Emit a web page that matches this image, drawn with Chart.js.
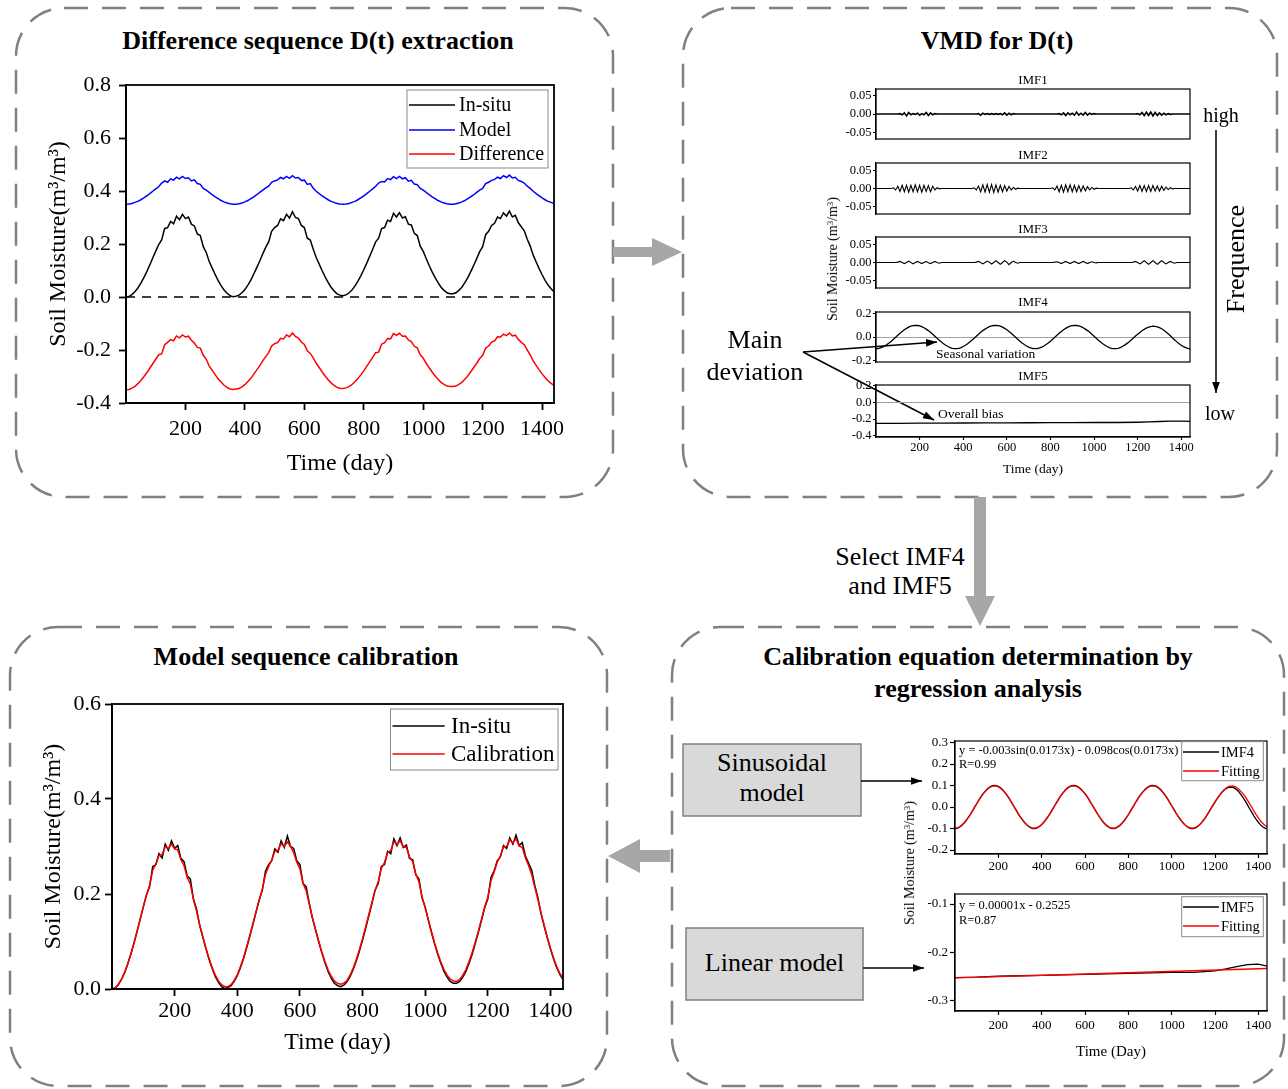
<!DOCTYPE html>
<html>
<head>
<meta charset="utf-8">
<script src="https://cdn.jsdelivr.net/npm/chart.js@4.4.1/dist/chart.umd.min.js"></script>
<style>
html, body { margin: 0; padding: 0; background: #fff; }
#page { position: relative; width: 1288px; height: 1089px; overflow: hidden;
        font-family: "Liberation Serif", "Times New Roman", serif; color: #000; }
#page canvas { position: absolute; }
.t { position: absolute; white-space: nowrap; line-height: 1; transform: translate(-50%, -50%); z-index: 3; }
.l { position: absolute; white-space: nowrap; line-height: 1; transform: translate(0, -50%); z-index: 3; }
.rot { transform: translate(-50%, -50%) rotate(-90deg); }
.b { font-weight: bold; }
sup { font-size: 0.62em; vertical-align: 0.5em; line-height: 0; }
</style>
</head>
<body>
<div id="page">
<svg width="1288" height="1089" style="position:absolute;left:0;top:0">
  <defs>
    <marker id="ah" viewBox="0 0 10 10" refX="10" refY="5" markerWidth="11" markerHeight="11"
            markerUnits="userSpaceOnUse" orient="auto">
      <path d="M0,1.5 L10,5 L0,8.5 z" fill="#000"/>
    </marker>
  </defs>
  <!-- dashed panels -->
  <g fill="none" stroke="#808080" stroke-width="2.5" stroke-dasharray="24 14">
    <rect x="16" y="8" width="597" height="489" rx="48"/>
    <rect x="683" y="8" width="594" height="489" rx="48"/>
    <rect x="10" y="627" width="597" height="459" rx="48"/>
    <rect x="672" y="627" width="612" height="459" rx="48"/>
  </g>
  <!-- gray flow arrows -->
  <g fill="#a6a6a6">
    <polygon points="613,247 652,247 652,238 682,252 652,266 652,257 613,257"/>
    <polygon points="974,497 986,497 986,596 995,596 980,626 965,596 974,596"/>
    <polygon points="670,850 640,850 640,839 608,856 640,873 640,862 670,862"/>
  </g>
  <!-- model boxes -->
  <rect x="683" y="744" width="178" height="72" fill="#d9d9d9" stroke="#7f7f7f" stroke-width="1.5"/>
  <rect x="686" y="928" width="177" height="72" fill="#d9d9d9" stroke="#7f7f7f" stroke-width="1.5"/>
  <!-- black arrows -->
  <g stroke="#000" stroke-width="1.5" fill="none">
    <line x1="861" y1="781" x2="922" y2="781" marker-end="url(#ah)"/>
    <line x1="863" y1="968" x2="924" y2="968" marker-end="url(#ah)"/>
    <line x1="803" y1="352" x2="937" y2="342" marker-end="url(#ah)"/>
    <line x1="803" y1="352" x2="934" y2="420" marker-end="url(#ah)"/>
    <line x1="1216" y1="130" x2="1216" y2="393" marker-end="url(#ah)"/>
  </g>
</svg>
</div>
<script>
// days 0..1440, one sample every 10 days
const days = Array.from({length: 145}, (_, i) => i * 10);
const xTicks = [200, 400, 600, 800, 1000, 1200, 1400];

const inSitu = [
  0,.002,.009,.020,.034,.052,.073,.096,.121,.147,.173,.198,
  .215,.258,.262,.285,.276,.305,.292,.312,.296,.302,.275,.268,.238,.232,.190,
  .168,.134,.109,.085,.062,.043,.026,.014,.005,.001,
  .003,.007,.016,.028,.045,.064,.087,.111,.136,.162,.187,
  .208,.248,.262,.270,.295,.288,.312,.298,.322,.300,.296,.270,.262,.222,.215,.180,
  .149,.124,.099,.076,.055,.037,.023,.012,.007,.005,
  .008,.015,.026,.041,.059,.080,.103,.128,.154,.180,
  .208,.222,.258,.262,.290,.285,.316,.302,.318,.298,.303,.275,.272,.240,.232,.192,.172,
  .145,.119,.095,.073,.054,.037,.025,.016,.012,
  .012,.016,.025,.037,.054,.073,.096,.120,.145,.171,
  .190,.235,.248,.270,.278,.302,.296,.318,.305,.324,.302,.308,.280,.265,.250,.218,.192,
  .158,.132,.107,.084,.063,.045,.031,.020
];
const model = [
  .350,.351,.353,.357,.361,.367,.374,.382,.390,.399,.408,.416,
  .430,.438,.433,.446,.441,.452,.446,.455,.447,.450,.438,.442,.428,.425,.410,
  .403,.395,.386,.378,.371,.364,.359,.355,.352,.350,
  .350,.352,.355,.359,.364,.371,.378,.386,.395,.403,.412,
  .418,.433,.438,.442,.451,.446,.455,.448,.458,.449,.451,.440,.441,.425,.428,.410,
  .399,.390,.382,.374,.367,.361,.357,.353,.351,.350,
  .351,.353,.357,.361,.367,.374,.382,.390,.399,.408,
  .418,.430,.436,.434,.447,.443,.454,.447,.455,.446,.450,.437,.440,.426,.424,.410,
  .403,.395,.386,.378,.371,.364,.359,.355,.352,.350,
  .350,.352,.355,.359,.364,.371,.378,.386,.395,.403,
  .410,.428,.433,.440,.444,.452,.447,.458,.451,.460,.449,.452,.440,.436,.430,.418,.410,
  .399,.390,.382,.374,.367,.361,.357,.353
];
const difference = [
  -.350,-.349,-.344,-.337,-.327,-.315,-.301,-.286,-.269,-.252,-.235,-.218,
  -.215,-.180,-.171,-.161,-.165,-.147,-.154,-.143,-.151,-.148,-.163,-.174,-.190,-.193,-.220,
  -.235,-.261,-.277,-.293,-.309,-.321,-.333,-.341,-.347,-.349,
  -.347,-.345,-.339,-.331,-.319,-.307,-.291,-.275,-.259,-.241,-.225,
  -.210,-.185,-.176,-.172,-.156,-.158,-.143,-.150,-.136,-.149,-.155,-.170,-.179,-.203,-.213,-.230,
  -.250,-.266,-.283,-.298,-.312,-.324,-.334,-.341,-.344,-.345,
  -.343,-.338,-.331,-.320,-.308,-.294,-.279,-.262,-.245,-.228,
  -.210,-.208,-.178,-.172,-.157,-.158,-.138,-.145,-.137,-.148,-.147,-.162,-.168,-.186,-.192,-.218,-.231,
  -.250,-.267,-.283,-.298,-.310,-.322,-.330,-.336,-.338,
  -.338,-.336,-.330,-.322,-.310,-.298,-.282,-.266,-.250,-.232,
  -.220,-.193,-.185,-.170,-.166,-.150,-.151,-.140,-.146,-.136,-.147,-.144,-.160,-.171,-.180,-.200,-.218,
  -.241,-.258,-.275,-.290,-.304,-.316,-.326,-.333
];
const calibration = [
  0,.002,.009,.020,.034,.052,.073,.096,.121,.147,.173,.198,
  .218,.250,.262,.281,.283,.300,.296,.305,.295,.293,.272,.260,.235,.221,.188,
  .164,.135,.110,.086,.064,.045,.029,.017,.009,.005,
  .005,.009,.018,.030,.047,.066,.089,.113,.138,.163,.188,
  .210,.241,.258,.271,.290,.292,.306,.300,.310,.300,.287,.267,.253,.222,.207,.178,
  .150,.125,.101,.078,.058,.040,.027,.017,.012,.010,
  .012,.018,.029,.044,.062,.083,.106,.131,.157,.183,
  .208,.226,.254,.266,.288,.291,.310,.305,.312,.300,.298,.278,.268,.242,.226,.194,.171,
  .146,.121,.097,.076,.057,.041,.029,.021,.017,
  .016,.020,.029,.041,.058,.077,.099,.123,.148,.173,
  .193,.228,.246,.267,.280,.299,.300,.314,.308,.316,.301,.298,.276,.260,.241,.214,.188,
  .160,.134,.109,.086,.065,.047,.033,.023
];
const imf1 = [
  0,0,0,0,0,0,0,0,0,0,0,
  .001,-.002,.003,-.005,.004,-.002,.001,-.001,.002,-.003,.001,-.002,.004,-.004,.003,-.002,.001,
  0,0,0,0,0,0,0,0,0,
  0,0,0,0,0,0,0,0,0,0,
  .001,-.003,.002,-.001,.001,-.001,.001,-.001,.001,-.001,.001,-.002,.003,-.003,.002,-.002,.001,
  0,0,0,0,0,0,0,0,0,0,
  0,0,0,0,0,0,0,0,0,0,
  .001,-.002,.003,-.004,.003,-.002,.002,-.003,.005,-.003,.002,-.003,.004,-.003,.002,-.001,.001,
  0,0,0,0,0,0,0,0,0,
  0,0,0,0,0,0,0,0,0,0,
  .001,-.002,.004,-.004,.005,-.004,.005,-.005,.004,-.004,.003,-.003,.002,-.002,.001,-.001,0,
  0,0,0,0,0,0,0,0
];
const imf2 = [
  0,0,0,0,0,0,0,0,
  .002,-.004,.006,-.008,.009,-.009,.009,-.010,.009,-.009,.010,-.009,.009,-.010,.009,-.008,.008,-.009,.006,-.004,.002,-.001,
  0,0,0,0,0,0,0,
  0,0,0,0,0,0,0,0,
  .002,-.004,.007,-.009,.010,-.010,.011,-.010,.011,-.011,.010,-.010,.009,-.009,.008,-.007,.006,-.004,.003,-.002,.001,
  0,0,0,0,0,0,0,0,
  0,0,0,0,0,0,0,
  .002,-.004,.007,-.009,.009,-.010,.010,-.009,.010,-.009,.009,-.009,.008,-.008,.007,-.006,.005,-.004,.003,-.002,.001,
  0,0,0,0,0,0,0,0,
  0,0,0,0,0,0,0,
  .002,-.004,.006,-.007,.008,-.008,.008,-.008,.008,-.008,.008,-.007,.007,-.007,.006,-.005,.004,-.003,.002,-.001,
  0,0,0,0,0,0,0,0
];
const imf3 = [
  0,0,0,0,0,0,0,0,0,0,
  .001,.003,0,-.003,0,.004,0,-.004,0,.003,0,-.003,0,.003,-.001,-.003,0,.003,0,-.002,
  0,0,0,0,0,0,0,
  0,0,0,0,0,0,0,0,0,
  .001,.003,0,-.004,0,.004,.001,-.004,0,.005,0,-.005,0,.005,.001,-.006,0,.004,0,-.002,
  0,0,0,0,0,0,0,0,
  0,0,0,0,0,0,0,0,
  .001,.002,0,-.003,0,.003,0,-.003,0,.003,0,-.003,0,.003,0,-.003,0,.002,0,-.001,
  0,0,0,0,0,0,0,0,
  0,0,0,0,0,0,0,0,
  .001,.003,0,-.004,0,.005,0,-.005,0,.005,0,-.005,0,.005,0,-.004,0,.003,0,-.002,
  0,0,0,0,0,0,0
];
const imf4 = [
  -.100,-.099,-.094,-.087,-.077,-.065,-.051,-.036,-.019,-.002,.015,.032,.048,.062,.074,.085,.093,.098,.100,
  .099,.096,.089,.080,.068,.055,.040,.023,.006,-.011,-.028,-.044,-.058,-.071,-.082,-.091,-.097,-.100,
  -.100,-.097,-.091,-.082,-.071,-.058,-.044,-.028,-.011,.006,.023,.040,.055,.068,.080,.089,.096,.099,.100,
  .098,.093,.085,.074,.062,.048,.032,.015,-.002,-.019,-.036,-.051,-.065,-.077,-.087,-.094,-.099,-.100,
  -.099,-.094,-.087,-.077,-.065,-.051,-.036,-.019,-.002,.015,.032,.048,.062,.074,.085,.093,.098,.100,
  .099,.096,.089,.080,.068,.055,.040,.023,.006,-.011,-.028,-.044,-.058,-.071,-.082,-.091,-.097,-.100,
  -.100,-.097,-.091,-.082,-.070,-.057,-.042,-.026,-.009,.008,.024,.039,.053,.066,.077,.085,.090,.093,
  .092,.088,.081,.071,.058,.043,.027,.010,-.008,-.025,-.042,-.058,-.071,-.083,-.092,-.098,-.101
];
const fit4 = [
  -.098,-.097,-.092,-.085,-.076,-.064,-.050,-.035,-.019,-.002,.015,.031,.047,.061,.073,.083,.091,.096,.098,
  .097,.094,.087,.078,.067,.054,.039,.023,.006,-.010,-.027,-.043,-.057,-.070,-.081,-.089,-.095,-.098,
  -.098,-.095,-.089,-.081,-.070,-.057,-.043,-.027,-.010,.006,.023,.039,.054,.067,.078,.087,.094,.097,.098,
  .096,.091,.083,.073,.061,.047,.031,.015,-.002,-.019,-.035,-.050,-.064,-.076,-.085,-.092,-.097,-.098,
  -.097,-.092,-.085,-.076,-.064,-.050,-.035,-.019,-.002,.015,.031,.047,.061,.073,.083,.091,.096,.098,
  .097,.094,.087,.078,.067,.054,.039,.023,.006,-.010,-.027,-.043,-.057,-.070,-.081,-.089,-.095,-.098,
  -.098,-.095,-.089,-.081,-.070,-.057,-.043,-.027,-.010,.006,.023,.039,.054,.067,.078,.087,.094,.097,
  .098,.096,.091,.083,.073,.061,.047,.031,.015,-.002,-.019,-.035,-.050,-.064,-.076,-.085,-.092
];
const imf5Days = [0, 100, 200, 300, 400, 500, 600, 700, 800, 900, 1000, 1100, 1200, 1250, 1300, 1350, 1400, 1440];
const imf5 = [-.252, -.251, -.249, -.248, -.247, -.246, -.245, -.244, -.243, -.242, -.241, -.241, -.238, -.234, -.229, -.225, -.224, -.228];
const fit5Days = [0, 720, 1440];
const fit5 = [-.2525, -.2428, -.233];
const zeroDays = [0, 1440];
const zeroLine = [0, 0];

const FONT = '"Liberation Serif", "Times New Roman", serif';
Chart.defaults.font.family = FONT;
Chart.defaults.color = '#000';

const page = document.getElementById('page');
const pts = (xs, ys) => xs.map((x, i) => ({x: x, y: ys[i]}));

function line(label, xs, ys, color, width, extra) {
  return Object.assign({label: label, data: pts(xs, ys), borderColor: color, borderWidth: width,
    pointRadius: 0, tension: 0, fill: false}, extra || {});
}

// box around the plot area
const framePlugin = {
  id: 'frame',
  afterDatasetsDraw(chart, args, o) {
    const a = chart.chartArea, ctx = chart.ctx;
    ctx.save();
    ctx.strokeStyle = '#000';
    ctx.lineWidth = o.width || 1.2;
    ctx.strokeRect(a.left, a.top, a.right - a.left, a.bottom - a.top);
    ctx.restore();
  }
};

// legend drawn inside the plot, like the original
const boxLegend = {
  id: 'boxLegend',
  afterDatasetsDraw(chart, args, o) {
    if (!o || !o.box) return;
    const a = chart.chartArea, ctx = chart.ctx;
    const [bx, by, bw, bh] = o.box;
    ctx.save();
    ctx.fillStyle = '#fff';
    ctx.fillRect(a.left + bx, a.top + by, bw, bh);
    ctx.strokeStyle = '#8a8a8a';
    ctx.lineWidth = 1;
    ctx.strokeRect(a.left + bx, a.top + by, bw, bh);
    ctx.font = o.font + 'px ' + FONT;
    ctx.textBaseline = 'middle';
    ctx.fillStyle = '#000';
    let k = 0;
    chart.data.datasets.forEach(ds => {
      if (!ds.label) return;
      const y = a.top + o.rows[k++];
      ctx.strokeStyle = ds.borderColor;
      ctx.lineWidth = 1.5;
      ctx.beginPath();
      ctx.moveTo(a.left + o.line[0], y);
      ctx.lineTo(a.left + o.line[1], y);
      ctx.stroke();
      ctx.fillText(ds.label, a.left + o.textX, y + 1);
    });
    ctx.restore();
  }
};
Chart.register(framePlugin, boxLegend);

function makeChart(o) {
  const [l, t, r, b] = o.area;
  const [pl, pt, pr, pb] = o.pad;
  const w = r - l + pl + pr, h = b - t + pt + pb;
  const cv = document.createElement('canvas');
  cv.width = w; cv.height = h;
  cv.style.left = (l - pl) + 'px';
  cv.style.top = (t - pt) + 'px';
  cv.style.width = w + 'px';
  cv.style.height = h + 'px';
  page.appendChild(cv);
  const xo = o.x, yo = o.y;
  const xShow = !!xo.size;
  return new Chart(cv, {
    type: 'line',
    data: {datasets: o.datasets},
    options: {
      responsive: false,
      animation: false,
      devicePixelRatio: 1,
      layout: {padding: {left: 0, top: pt, right: pr, bottom: 0}},
      plugins: {
        legend: {display: false},
        tooltip: {enabled: false},
        frame: {width: o.frame},
        boxLegend: o.legend || {}
      },
      scales: {
        x: {
          type: 'linear', min: 0, max: 1440, display: xShow,
          afterBuildTicks: s => { s.ticks = xTicks.map(v => ({value: v})); },
          afterFit: s => { s.height = pb; },
          ticks: {autoSkip: false, maxRotation: 0, padding: xo.pad, font: {size: xo.size}, color: '#000',
                  callback: v => String(v)},
          grid: {drawOnChartArea: false, tickLength: xo.tick, tickColor: '#000', tickWidth: o.frame},
          border: {display: true, color: '#000', width: o.frame},
          title: xo.title ? {display: true, text: xo.title, color: '#000', font: {size: xo.titleSize},
                             padding: {top: 0, bottom: xo.titlePad}} : {display: false}
        },
        y: {
          type: 'linear', min: yo.min, max: yo.max,
          afterBuildTicks: s => { s.ticks = yo.ticks.map(v => ({value: v})); },
          afterFit: s => { s.width = pl; },
          ticks: {autoSkip: false, padding: yo.pad, font: {size: yo.size}, color: '#000',
                  callback: v => v.toFixed(yo.dec)},
          grid: {
            drawOnChartArea: !!yo.zero,
            color: c => (yo.zero && c.tick && Math.abs(c.tick.value) < 1e-9) ? '#a0a0a0' : 'rgba(0,0,0,0)',
            lineWidth: 1, tickColor: '#000', tickWidth: o.frame, tickLength: yo.tick
          },
          border: {display: true, color: '#000', width: o.frame},
          title: yo.title ? {display: true, text: yo.title, color: '#000', font: {size: yo.titleSize},
                             padding: {top: yo.titlePad, bottom: 0}} : {display: false}
        }
      }
    }
  });
}

function text(html, x, y, size, cls) {
  const d = document.createElement('div');
  d.className = cls || 't';
  d.style.left = x + 'px';
  d.style.top = y + 'px';
  d.style.fontSize = size + 'px';
  d.innerHTML = html;
  page.appendChild(d);
}

function build() {
  // panel 1: difference sequence
  makeChart({
    area: [126, 85, 554, 403], pad: [106, 30, 22, 80], frame: 1.8,
    datasets: [
      line('In-situ', days, inSitu, '#000000', 1.5),
      line('Model', days, model, '#0000ff', 1.5),
      line('Difference', days, difference, '#ff0000', 1.5),
      line(undefined, zeroDays, zeroLine, '#000000', 1.5, {borderDash: [9, 7]})
    ],
    x: {size: 22, pad: 6, tick: 7, title: 'Time (day)', titleSize: 24, titlePad: 4.6},
    y: {min: -0.4, max: 0.8, ticks: [-0.4, -0.2, 0, 0.2, 0.4, 0.6, 0.8], dec: 1, size: 22, pad: 8, tick: 7,
        title: 'Soil Moisture(m³/m³)', titleSize: 24, titlePad: 24.6},
    legend: {box: [281, 5, 141, 78], rows: [20, 45, 69], line: [283, 329], textX: 333, font: 20}
  });

  // panel 2: VMD components
  const imfY = {min: -0.07, max: 0.07, ticks: [-0.05, 0, 0.05], dec: 2, size: 12.5, pad: 1.5, tick: 3};
  makeChart({area: [876, 89, 1190, 139], pad: [60, 14, 20, 14], frame: 1.2,
    datasets: [line('', days, imf1, '#000', 1.6)], x: {},
    y: Object.assign({}, imfY, {min: -0.067, max: 0.067})});
  makeChart({area: [876, 163, 1190, 214], pad: [60, 14, 20, 14], frame: 1.2,
    datasets: [line('', days, imf2, '#000', 1.1)], x: {}, y: imfY});
  makeChart({area: [876, 237, 1190, 288], pad: [60, 14, 20, 14], frame: 1.2,
    datasets: [line('', days, imf3, '#000', 1.1)], x: {}, y: imfY});
  makeChart({area: [876, 312, 1190, 362], pad: [60, 14, 20, 14], frame: 1.2,
    datasets: [line('', days, imf4, '#000', 1.3)], x: {},
    y: {min: -0.215, max: 0.215, ticks: [-0.2, 0, 0.2], dec: 1, size: 12.5, pad: 1.5, tick: 3, zero: true}});
  makeChart({area: [876, 385, 1190, 437], pad: [60, 14, 20, 45], frame: 1.2,
    datasets: [line('', imf5Days, imf5, '#000', 1.3)],
    x: {size: 12.5, pad: 0, tick: 3, title: 'Time (day)', titleSize: 13.5, titlePad: 4.6},
    y: {min: -0.416, max: 0.212, ticks: [-0.4, -0.2, 0, 0.2], dec: 1, size: 12.5, pad: 1.5, tick: 3, zero: true}});

  // panel 3: calibrated model
  makeChart({
    area: [112, 704, 563, 989], pad: [100, 30, 22, 75], frame: 1.8,
    datasets: [
      line('In-situ', days, inSitu, '#000000', 1.5, {order: 1}),
      line('Calibration', days, calibration, '#ff0000', 1.5, {order: 0})
    ],
    x: {size: 22, pad: 2.5, tick: 7, title: 'Time (day)', titleSize: 24, titlePad: 6.9},
    y: {min: 0, max: 0.6, ticks: [0, 0.2, 0.4, 0.6], dec: 1, size: 22, pad: 4, tick: 7,
        title: 'Soil Moisture(m³/m³)', titleSize: 24, titlePad: 27.6},
    legend: {box: [278.5, 5, 167.5, 61], rows: [22, 50], line: [280.5, 332.7], textX: 339, font: 23}
  });

  // panel 4: regression fits
  makeChart({
    area: [955, 741, 1267, 854], pad: [60, 14, 20, 30], frame: 1.2,
    datasets: [
      line('IMF4', days, imf4, '#000000', 1.3, {order: 1}),
      line('Fitting', days, fit4, '#ff0000', 1.3, {order: 0})
    ],
    x: {size: 13, pad: 1.2, tick: 4},
    y: {min: -0.2185, max: 0.307, ticks: [-0.2, -0.1, 0, 0.1, 0.2, 0.3], dec: 1, size: 13, pad: 2, tick: 5},
    legend: {box: [226.7, 0.7, 81.6, 39], rows: [11, 30], line: [228, 264], textX: 266, font: 14.5}
  });
  makeChart({
    area: [955, 894, 1267, 1011], pad: [60, 14, 20, 60], frame: 1.2,
    datasets: [
      line('IMF5', imf5Days, imf5, '#000000', 1.3, {order: 1}),
      line('Fitting', fit5Days, fit5, '#ff0000', 1.3, {order: 0})
    ],
    x: {size: 13, pad: 3.2, tick: 4, title: 'Time (Day)', titleSize: 15, titlePad: 10},
    y: {min: -0.3207, max: -0.0793, ticks: [-0.3, -0.2, -0.1], dec: 1, size: 13, pad: 2, tick: 5},
    legend: {box: [226.7, 2.7, 81.6, 40], rows: [13, 32], line: [228, 264], textX: 266, font: 14.5}
  });

  // titles and annotations
  text('Difference sequence D(t) extraction', 318, 41, 26, 't b');
  text('VMD for D(t)', 997, 41, 26, 't b');
  text('Model sequence calibration', 306, 657, 26, 't b');
  text('Calibration equation determination by', 978, 657, 26, 't b');
  text('regression analysis', 978, 689, 26, 't b');

  ['IMF1', 'IMF2', 'IMF3', 'IMF4', 'IMF5'].forEach((s, i) => text(s, 1033, [79, 154, 228, 301, 375][i], 13));
  text('Soil Moisture (m<sup>3</sup>/m<sup>3</sup>)', 833, 259, 14, 't rot');
  text('high', 1221, 115, 20);
  text('low', 1220, 413, 20);
  text('Frequence', 1236, 259, 26, 't rot');
  text('Main', 755, 340, 26);
  text('deviation', 755, 372, 26);
  text('Seasonal variation', 936, 354, 13.5, 'l');
  text('Overall bias', 938, 414, 13.5, 'l');

  text('Select IMF4', 900, 557, 26);
  text('and IMF5', 900, 586, 26);
  text('Sinusoidal', 772, 763, 26);
  text('model', 772, 793, 26);
  text('Linear model', 774.5, 963, 26);

  text('y = -0.003sin(0.0173x) - 0.098cos(0.0173x)', 959, 750, 12.5, 'l');
  text('R=0.99', 959, 764, 12.5, 'l');
  text('y = 0.00001x - 0.2525', 959, 905, 12.5, 'l');
  text('R=0.87', 959, 920, 12.5, 'l');
  text('Soil Moisture (m<sup>3</sup>/m<sup>3</sup>)', 910, 863, 14, 't rot');
}

Promise.all([
  document.fonts.load('22px "Liberation Serif"'),
  document.fonts.load('bold 26px "Liberation Serif"')
]).then(build, build);
</script>
</body>
</html>
